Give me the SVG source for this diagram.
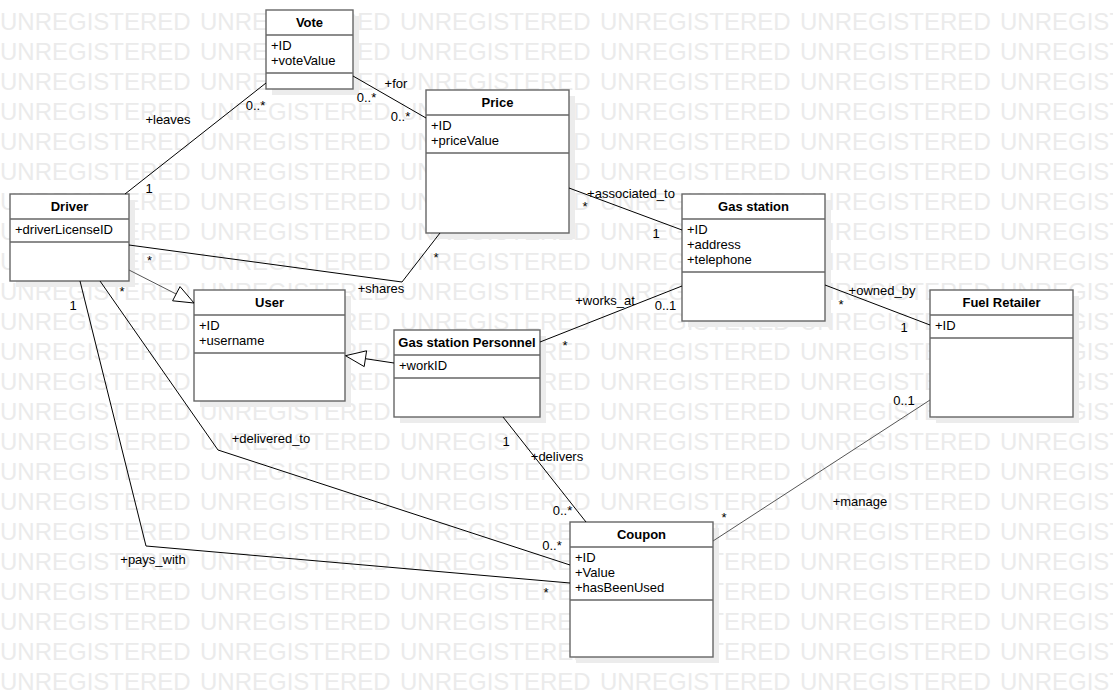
<svg xmlns="http://www.w3.org/2000/svg" width="1113" height="697" viewBox="0 0 1113 697">
<defs>
<style>
.wm{font-family:"Liberation Sans",Arial,sans-serif;font-size:24px;fill:#ebebeb;word-spacing:2.65px}
.sh{fill:#ececec}
.box{fill:#fff;stroke:#666;stroke-width:1.4}
.div{stroke:#666;stroke-width:1.4}
.t{font-family:"Liberation Sans",Arial,sans-serif;font-size:13px;font-weight:bold;fill:#000;text-anchor:middle}
.a{font-family:"Liberation Sans",Arial,sans-serif;font-size:13px;fill:#000}
.l{font-family:"Liberation Sans",Arial,sans-serif;font-size:13px;fill:#000;text-anchor:middle}
.c{fill:none;stroke:#000;stroke-width:1}
.g{fill:none;stroke:#555;stroke-width:1}
.tri{fill:#fff;stroke:#000;stroke-width:1}
</style>
</defs>
<rect x="0" y="0" width="1113" height="697" fill="#fff"/>
<g id="watermark">
<text class="wm" x="0" y="30">UNREGISTERED UNREGISTERED UNREGISTERED UNREGISTERED UNREGISTERED UNREGISTERED</text>
<text class="wm" x="0" y="60">UNREGISTERED UNREGISTERED UNREGISTERED UNREGISTERED UNREGISTERED UNREGISTERED</text>
<text class="wm" x="0" y="90">UNREGISTERED UNREGISTERED UNREGISTERED UNREGISTERED UNREGISTERED UNREGISTERED</text>
<text class="wm" x="0" y="120">UNREGISTERED UNREGISTERED UNREGISTERED UNREGISTERED UNREGISTERED UNREGISTERED</text>
<text class="wm" x="0" y="150">UNREGISTERED UNREGISTERED UNREGISTERED UNREGISTERED UNREGISTERED UNREGISTERED</text>
<text class="wm" x="0" y="180">UNREGISTERED UNREGISTERED UNREGISTERED UNREGISTERED UNREGISTERED UNREGISTERED</text>
<text class="wm" x="0" y="210">UNREGISTERED UNREGISTERED UNREGISTERED UNREGISTERED UNREGISTERED UNREGISTERED</text>
<text class="wm" x="0" y="240">UNREGISTERED UNREGISTERED UNREGISTERED UNREGISTERED UNREGISTERED UNREGISTERED</text>
<text class="wm" x="0" y="270">UNREGISTERED UNREGISTERED UNREGISTERED UNREGISTERED UNREGISTERED UNREGISTERED</text>
<text class="wm" x="0" y="300">UNREGISTERED UNREGISTERED UNREGISTERED UNREGISTERED UNREGISTERED UNREGISTERED</text>
<text class="wm" x="0" y="330">UNREGISTERED UNREGISTERED UNREGISTERED UNREGISTERED UNREGISTERED UNREGISTERED</text>
<text class="wm" x="0" y="360">UNREGISTERED UNREGISTERED UNREGISTERED UNREGISTERED UNREGISTERED UNREGISTERED</text>
<text class="wm" x="0" y="390">UNREGISTERED UNREGISTERED UNREGISTERED UNREGISTERED UNREGISTERED UNREGISTERED</text>
<text class="wm" x="0" y="420">UNREGISTERED UNREGISTERED UNREGISTERED UNREGISTERED UNREGISTERED UNREGISTERED</text>
<text class="wm" x="0" y="450">UNREGISTERED UNREGISTERED UNREGISTERED UNREGISTERED UNREGISTERED UNREGISTERED</text>
<text class="wm" x="0" y="480">UNREGISTERED UNREGISTERED UNREGISTERED UNREGISTERED UNREGISTERED UNREGISTERED</text>
<text class="wm" x="0" y="510">UNREGISTERED UNREGISTERED UNREGISTERED UNREGISTERED UNREGISTERED UNREGISTERED</text>
<text class="wm" x="0" y="540">UNREGISTERED UNREGISTERED UNREGISTERED UNREGISTERED UNREGISTERED UNREGISTERED</text>
<text class="wm" x="0" y="570">UNREGISTERED UNREGISTERED UNREGISTERED UNREGISTERED UNREGISTERED UNREGISTERED</text>
<text class="wm" x="0" y="600">UNREGISTERED UNREGISTERED UNREGISTERED UNREGISTERED UNREGISTERED UNREGISTERED</text>
<text class="wm" x="0" y="630">UNREGISTERED UNREGISTERED UNREGISTERED UNREGISTERED UNREGISTERED UNREGISTERED</text>
<text class="wm" x="0" y="660">UNREGISTERED UNREGISTERED UNREGISTERED UNREGISTERED UNREGISTERED UNREGISTERED</text>
<text class="wm" x="0" y="690">UNREGISTERED UNREGISTERED UNREGISTERED UNREGISTERED UNREGISTERED UNREGISTERED</text>
</g>
<g id="vote">
<rect class="sh" x="272" y="16" width="87" height="79"/>
<rect class="box" x="266" y="10" width="87" height="79"/>
<line class="div" x1="266" y1="35" x2="353" y2="35"/>
<line class="div" x1="266" y1="73" x2="353" y2="73"/>
<text class="t" x="309.5" y="27">Vote</text>
<text class="a" x="271" y="50">+ID</text>
<text class="a" x="271" y="65">+voteValue</text>
</g>
<g id="price">
<rect class="sh" x="432" y="96" width="143" height="143"/>
<rect class="box" x="426" y="90" width="143" height="143"/>
<line class="div" x1="426" y1="115" x2="569" y2="115"/>
<line class="div" x1="426" y1="153" x2="569" y2="153"/>
<text class="t" x="497.5" y="107">Price</text>
<text class="a" x="431" y="130">+ID</text>
<text class="a" x="431" y="145">+priceValue</text>
</g>
<g id="driver">
<rect class="sh" x="16" y="200" width="119" height="87"/>
<rect class="box" x="10" y="194" width="119" height="87"/>
<line class="div" x1="10" y1="219" x2="129" y2="219"/>
<line class="div" x1="10" y1="242" x2="129" y2="242"/>
<text class="t" x="69.5" y="211">Driver</text>
<text class="a" x="15" y="234">+driverLicenseID</text>
</g>
<g id="gas-station">
<rect class="sh" x="688" y="200" width="143" height="127"/>
<rect class="box" x="682" y="194" width="143" height="127"/>
<line class="div" x1="682" y1="219" x2="825" y2="219"/>
<line class="div" x1="682" y1="272" x2="825" y2="272"/>
<text class="t" x="753.5" y="211">Gas station</text>
<text class="a" x="687" y="234">+ID</text>
<text class="a" x="687" y="249">+address</text>
<text class="a" x="687" y="264">+telephone</text>
</g>
<g id="user">
<rect class="sh" x="200" y="296" width="151" height="111"/>
<rect class="box" x="194" y="290" width="151" height="111"/>
<line class="div" x1="194" y1="315" x2="345" y2="315"/>
<line class="div" x1="194" y1="353" x2="345" y2="353"/>
<text class="t" x="269.5" y="307">User</text>
<text class="a" x="199" y="330">+ID</text>
<text class="a" x="199" y="345">+username</text>
</g>
<g id="gas-station-personnel">
<rect class="sh" x="400" y="336" width="146" height="87"/>
<rect class="box" x="394" y="330" width="146" height="87"/>
<line class="div" x1="394" y1="355" x2="540" y2="355"/>
<line class="div" x1="394" y1="378" x2="540" y2="378"/>
<text class="t" x="467" y="347">Gas station Personnel</text>
<text class="a" x="399" y="370">+workID</text>
</g>
<g id="fuel-retailer">
<rect class="sh" x="936" y="296" width="143" height="127"/>
<rect class="box" x="930" y="290" width="143" height="127"/>
<line class="div" x1="930" y1="315" x2="1073" y2="315"/>
<line class="div" x1="930" y1="338" x2="1073" y2="338"/>
<text class="t" x="1001.5" y="307">Fuel Retailer</text>
<text class="a" x="935" y="330">+ID</text>
</g>
<g id="coupon">
<rect class="sh" x="576" y="528" width="143" height="135"/>
<rect class="box" x="570" y="522" width="143" height="135"/>
<line class="div" x1="570" y1="547" x2="713" y2="547"/>
<line class="div" x1="570" y1="600" x2="713" y2="600"/>
<text class="t" x="641.5" y="539">Coupon</text>
<text class="a" x="575" y="562">+ID</text>
<text class="a" x="575" y="577">+Value</text>
<text class="a" x="575" y="592">+hasBeenUsed</text>
</g>
<g id="connectors">
<polyline class="c" points="266,83 125,194"/>
<polyline class="c" points="353,76 426,118"/>
<polyline class="c" points="129,245 402,282 440,233"/>
<polyline class="g" points="129,270 180,296"/>
<polygon class="tri" points="194,303 172.6,300.8 180,286.6"/>
<polyline class="c" points="100,281 218,450 570,565"/>
<polyline class="c" points="80,281 146,546 570,583"/>
<polyline class="c" points="394,363 365.4,358.7"/>
<polygon class="tri" points="345.5,355.7 366.6,350.8 364.2,366.6"/>
<polyline class="c" points="540,342 682,286"/>
<polyline class="c" points="569,188 682,230"/>
<polyline class="c" points="825,285 930,325"/>
<polyline class="c" points="503,417 586,522"/>
<polyline class="g" points="930,400 713,541"/>
<text class="l" x="168" y="124">+leaves</text>
<text class="l" x="255.5" y="110">0..*</text>
<text class="l" x="149" y="193">1</text>
<text class="l" x="396" y="88">+for</text>
<text class="l" x="366.5" y="102">0..*</text>
<text class="l" x="400.5" y="121">0..*</text>
<text class="l" x="149.5" y="265">*</text>
<text class="l" x="381" y="293">+shares</text>
<text class="l" x="436" y="262">*</text>
<text class="l" x="631" y="197.5">+associated_to</text>
<text class="l" x="585" y="211">*</text>
<text class="l" x="656" y="238">1</text>
<text class="l" x="605" y="304.5">+works_at</text>
<text class="l" x="665.5" y="310">0..1</text>
<text class="l" x="565" y="350">*</text>
<text class="l" x="882" y="294.5">+owned_by</text>
<text class="l" x="841" y="309">*</text>
<text class="l" x="904" y="332">1</text>
<text class="l" x="122" y="296">*</text>
<text class="l" x="73" y="310">1</text>
<text class="l" x="271" y="442.5">+delivered_to</text>
<text class="l" x="552" y="550">0..*</text>
<text class="l" x="153" y="563.5">+pays_with</text>
<text class="l" x="546" y="597">*</text>
<text class="l" x="506" y="446">1</text>
<text class="l" x="557" y="461">+delivers</text>
<text class="l" x="562.5" y="515">0..*</text>
<text class="l" x="904" y="405">0..1</text>
<text class="l" x="860" y="506">+manage</text>
<text class="l" x="724" y="522">*</text>
</g>
</svg>
